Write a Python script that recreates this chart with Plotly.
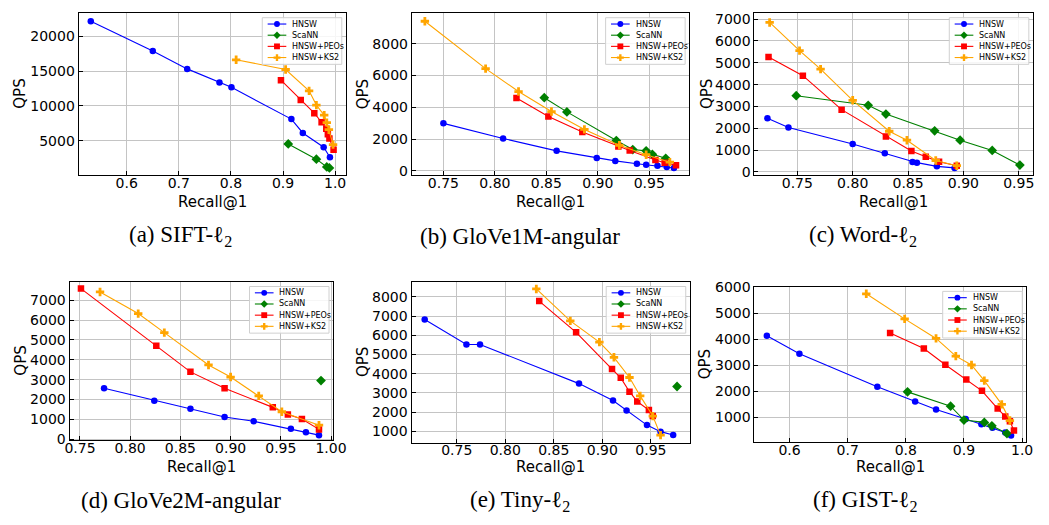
import plotly.graph_objects as go

# ---------------- data: Recall@1 vs QPS per dataset ----------------
# (a) SIFT-l2
sift_hnsw_x = [0.531, 0.650, 0.716, 0.778, 0.801, 0.916, 0.938, 0.978, 0.990]
sift_hnsw_y = [22190, 17900, 15340, 13390, 12690, 8120, 6120, 4070, 2630]
sift_scann_x = [0.910, 0.964, 0.984, 0.989]
sift_scann_y = [4540, 2350, 1230, 1090]
sift_peos_x = [0.896, 0.934, 0.960, 0.974, 0.983, 0.986, 0.989, 0.997]
sift_peos_y = [13710, 10870, 8960, 7660, 6730, 5930, 5330, 3700]
sift_ks2_x = [0.810, 0.905, 0.950, 0.964, 0.979, 0.984, 0.988, 0.996]
sift_ks2_y = [16650, 15250, 12180, 10130, 8680, 7610, 6590, 4440]

# (b) GloVe1M-angular
g1m_hnsw_x = [0.750, 0.808, 0.860, 0.899, 0.917, 0.938, 0.947, 0.958, 0.967, 0.974]
g1m_hnsw_y = [2990, 2040, 1260, 810, 630, 450, 390, 330, 240, 180]
g1m_scann_x = [0.848, 0.870, 0.918, 0.934, 0.947, 0.953, 0.966]
g1m_scann_y = [4600, 3710, 1910, 1340, 1260, 1040, 790]
g1m_peos_x = [0.821, 0.852, 0.885, 0.920, 0.931, 0.956, 0.965, 0.976]
g1m_peos_y = [4580, 3420, 2440, 1530, 1280, 690, 510, 350]
g1m_ks2_x = [0.732, 0.791, 0.823, 0.855, 0.887, 0.921, 0.947, 0.970]
g1m_ks2_y = [9410, 6430, 4990, 3730, 2610, 1610, 1020, 550]

# (c) Word-l2
word_hnsw_x = [0.723, 0.742, 0.800, 0.829, 0.854, 0.858, 0.876, 0.892]
word_hnsw_y = [2460, 2030, 1280, 850, 450, 420, 250, 180]
word_scann_x = [0.749, 0.814, 0.830, 0.874, 0.897, 0.926, 0.951]
word_scann_y = [3490, 3050, 2650, 1880, 1450, 980, 310]
word_peos_x = [0.724, 0.755, 0.790, 0.830, 0.853, 0.866, 0.878, 0.894]
word_peos_y = [5270, 4410, 2850, 1620, 950, 690, 460, 280]
word_ks2_x = [0.725, 0.752, 0.771, 0.800, 0.833, 0.849, 0.875, 0.894]
word_ks2_y = [6850, 5560, 4710, 3280, 1860, 1450, 520, 280]

# (d) GloVe2M-angular
g2m_hnsw_x = [0.774, 0.824, 0.860, 0.894, 0.923, 0.960, 0.975, 0.988]
g2m_hnsw_y = [2560, 1940, 1530, 1110, 900, 520, 340, 200]
g2m_scann_x = [0.990]
g2m_scann_y = [2950]
g2m_peos_x = [0.751, 0.826, 0.860, 0.894, 0.942, 0.957, 0.971, 0.988]
g2m_peos_y = [7590, 4710, 3390, 2560, 1600, 1240, 1010, 490]
g2m_ks2_x = [0.770, 0.808, 0.834, 0.878, 0.900, 0.928, 0.951, 0.988]
g2m_ks2_y = [7420, 6330, 5370, 3740, 3130, 2180, 1380, 700]

# (e) Tiny-l2
tiny_hnsw_x = [0.717, 0.760, 0.774, 0.876, 0.911, 0.925, 0.946, 0.960, 0.973]
tiny_hnsw_y = [6820, 5520, 5520, 3480, 2600, 2080, 1320, 980, 800]
tiny_scann_x = [0.977]
tiny_scann_y = [3330]
tiny_peos_x = [0.835, 0.873, 0.910, 0.919, 0.928, 0.936, 0.948, 0.952]
tiny_peos_y = [7780, 6150, 4240, 3780, 3060, 2550, 2100, 1790]
tiny_ks2_x = [0.832, 0.867, 0.897, 0.912, 0.928, 0.939, 0.952, 0.960]
tiny_ks2_y = [8410, 6750, 5640, 4850, 3800, 2840, 1790, 800]

# (f) GIST-l2
gist_hnsw_x = [0.561, 0.617, 0.751, 0.816, 0.852, 0.903, 0.930, 0.949, 0.971, 0.981]
gist_hnsw_y = [4130, 3440, 2180, 1610, 1300, 940, 740, 600, 420, 310]
gist_scann_x = [0.803, 0.877, 0.900, 0.935, 0.948, 0.974]
gist_scann_y = [1980, 1430, 900, 810, 680, 380]
gist_peos_x = [0.773, 0.831, 0.868, 0.904, 0.931, 0.958, 0.971, 0.979, 0.986]
gist_peos_y = [4240, 3640, 3020, 2450, 2020, 1340, 1040, 850, 500]
gist_ks2_x = [0.732, 0.798, 0.852, 0.886, 0.913, 0.935, 0.965, 0.979]
gist_ks2_y = [5740, 4780, 4030, 3350, 3010, 2410, 1500, 880]

method_names = ["HNSW", "ScaNN", "HNSW+PEOs", "HNSW+KS2"]

captions = [
    "(a) SIFT-ℓ<sub>2</sub>",
    "(b) GloVe1M-angular",
    "(c) Word-ℓ<sub>2</sub>",
    "(d) GloVe2M-angular",
    "(e) Tiny-ℓ<sub>2</sub>",
    "(f) GIST-ℓ<sub>2</sub>",
]

x_ticks = [
    [0.6, 0.7, 0.8, 0.9, 1.0],
    [0.75, 0.80, 0.85, 0.90, 0.95],
    [0.75, 0.80, 0.85, 0.90, 0.95],
    [0.75, 0.80, 0.85, 0.90, 0.95, 1.00],
    [0.75, 0.80, 0.85, 0.90, 0.95],
    [0.6, 0.7, 0.8, 0.9, 1.0],
]
y_ticks = [
    [5000, 10000, 15000, 20000],
    [0, 2000, 4000, 6000, 8000],
    [0, 1000, 2000, 3000, 4000, 5000, 6000, 7000],
    [0, 1000, 2000, 3000, 4000, 5000, 6000, 7000],
    [1000, 2000, 3000, 4000, 5000, 6000, 7000, 8000],
    [1000, 2000, 3000, 4000, 5000, 6000],
]

panels = [
    [(sift_hnsw_x, sift_hnsw_y), (sift_scann_x, sift_scann_y),
     (sift_peos_x, sift_peos_y), (sift_ks2_x, sift_ks2_y)],
    [(g1m_hnsw_x, g1m_hnsw_y), (g1m_scann_x, g1m_scann_y),
     (g1m_peos_x, g1m_peos_y), (g1m_ks2_x, g1m_ks2_y)],
    [(word_hnsw_x, word_hnsw_y), (word_scann_x, word_scann_y),
     (word_peos_x, word_peos_y), (word_ks2_x, word_ks2_y)],
    [(g2m_hnsw_x, g2m_hnsw_y), (g2m_scann_x, g2m_scann_y),
     (g2m_peos_x, g2m_peos_y), (g2m_ks2_x, g2m_ks2_y)],
    [(tiny_hnsw_x, tiny_hnsw_y), (tiny_scann_x, tiny_scann_y),
     (tiny_peos_x, tiny_peos_y), (tiny_ks2_x, tiny_ks2_y)],
    [(gist_hnsw_x, gist_hnsw_y), (gist_scann_x, gist_scann_y),
     (gist_peos_x, gist_peos_y), (gist_ks2_x, gist_ks2_y)],
]

# ---------------- styling and layout ----------------
W, H = 1049, 525
colors = ["#0000ff", "#008000", "#ff0000", "#ffa500"]
symbols = ["circle", "diamond", "square", "cross"]
msizes = [6.5, 7.5, 6.5, 7]

# plot frames in pixels: (left, right, top, bottom)
frames = [
    (75.0, 347.0, 5.0, 172.0),
    (414.3, 696.7, 5.0, 172.0),
    (763.3, 1046.7, 5.0, 172.0),
    (65.7, 334.0, 281.7, 445.0),
    (414.0, 697.3, 281.7, 447.3),
    (763.3, 1040.0, 286.7, 446.7),
]
x_ranges = [
    [0.5077, 1.0203], [0.7193, 0.9887], [0.7113, 0.9626],
    [0.7396, 1.0019], [0.7034, 0.9900], [0.5397, 1.0070],
]
y_ranges = [
    [60, 23400], [-263, 9936], [-150, 7290],
    [-60, 7940], [413, 8790], [60, 6020],
]
x_fmt = [".1f", ".2f", ".2f", ".2f", ".2f", ".1f"]
qps_x = [15, 365, 715, 16, 364.5, 713]
xlabel_y = [200, 200, 200, 472, 472, 472]
caption_pos = [(179, 235), (525, 235), (874, 235), (179, 507), (525, 507), (876, 507)]


def px(x):
    return x / W


def py(y):
    return 1 - y / H


fig = go.Figure()
shapes = []
annotations = []
tick_font = dict(family="DejaVu Sans", size=14, color="black")

for i, series in enumerate(panels):
    n = "" if i == 0 else str(i + 1)
    left, right, top, bottom = frames[i]
    for k, (xs, ys) in enumerate(series):
        fig.add_trace(go.Scatter(
            x=xs, y=ys, mode="lines+markers", name=method_names[k],
            xaxis="x" + n, yaxis="y" + n, showlegend=False,
            line=dict(color=colors[k], width=1.1),
            marker=dict(symbol=symbols[k], size=msizes[k], color=colors[k],
                        line=dict(width=0)),
        ))
    common = dict(
        showgrid=True, gridcolor="#c4c4c4", gridwidth=1,
        showline=True, linecolor="black", linewidth=1, mirror=True,
        ticks="inside", ticklen=4, tickcolor="black",
        tickfont=tick_font, zeroline=False,
    )
    fig.update_layout(**{
        "xaxis" + n: dict(
            domain=[px(left), px(right)], range=x_ranges[i],
            anchor="y" + n, tickvals=x_ticks[i], tickformat=x_fmt[i],
            ticklabelstandoff=-5, **common),
        "yaxis" + n: dict(
            domain=[py(bottom), py(top)], range=y_ranges[i],
            anchor="x" + n, tickvals=y_ticks[i], tickformat="d", **common),
    })

    # axis titles
    annotations.append(dict(
        x=px((left + right) / 2), y=py(xlabel_y[i]), xref="paper", yref="paper",
        text="Recall@1", showarrow=False, xanchor="center", yanchor="middle",
        font=dict(family="DejaVu Sans", size=15, color="black")))
    annotations.append(dict(
        x=px(qps_x[i]), y=py((top + bottom) / 2), xref="paper", yref="paper",
        text="QPS", showarrow=False, textangle=-90, xanchor="center", yanchor="middle",
        font=dict(family="DejaVu Sans", size=15, color="black")))

    # sub-figure caption
    cx, cy = caption_pos[i]
    annotations.append(dict(
        x=px(cx), y=py(cy), xref="paper", yref="paper", text=captions[i],
        showarrow=False, xanchor="center", yanchor="middle",
        font=dict(family="Liberation Serif", size=23, color="black")))

    # legend box in the upper-right corner
    bw, bh = 81, 48
    bx1 = right - 4
    bx0 = bx1 - bw
    by0 = top + 5
    by1 = by0 + bh
    shapes.append(dict(type="rect", xref="paper", yref="paper",
                       x0=px(bx0), x1=px(bx1), y0=py(by1), y1=py(by0),
                       line=dict(color="#d0d0d0", width=1),
                       fillcolor="rgba(255,255,255,0.85)", layer="above"))
    for k in range(4):
        ry = by0 + 6.5 + k * 11.5
        hx0, hx1 = bx0 + 5.5, bx0 + 24.5
        mx = (hx0 + hx1) / 2
        shapes.append(dict(type="line", xref="paper", yref="paper",
                           x0=px(hx0), x1=px(hx1), y0=py(ry), y1=py(ry),
                           line=dict(color=colors[k], width=1.1), layer="above"))
        r = 3.0
        style = dict(xref="paper", yref="paper", fillcolor=colors[k],
                     line=dict(width=0), layer="above")
        if symbols[k] == "circle":
            shapes.append(dict(type="circle", x0=px(mx - r), x1=px(mx + r),
                               y0=py(ry + r), y1=py(ry - r), **style))
        elif symbols[k] == "square":
            shapes.append(dict(type="rect", x0=px(mx - r), x1=px(mx + r),
                               y0=py(ry + r), y1=py(ry - r), **style))
        elif symbols[k] == "diamond":
            d = 3.8
            path = (f"M {px(mx)},{py(ry - d)} L {px(mx + d)},{py(ry)} "
                    f"L {px(mx)},{py(ry + d)} L {px(mx - d)},{py(ry)} Z")
            shapes.append(dict(type="path", path=path, **style))
        else:
            a, b = 3.5, 1.2
            pts = [(-b, -a), (b, -a), (b, -b), (a, -b), (a, b), (b, b),
                   (b, a), (-b, a), (-b, b), (-a, b), (-a, -b), (-b, -b)]
            path = "M " + " L ".join(f"{px(mx + u)},{py(ry + v)}" for u, v in pts) + " Z"
            shapes.append(dict(type="path", path=path, **style))
        annotations.append(dict(
            x=px(bx0 + 28.5), y=py(ry), xref="paper", yref="paper",
            text=method_names[k], showarrow=False, xanchor="left", yanchor="middle",
            font=dict(family="DejaVu Sans", size=8, color="black")))

fig.update_layout(
    width=W, height=H,
    margin=dict(l=0, r=0, t=0, b=0),
    paper_bgcolor="white", plot_bgcolor="white",
    shapes=shapes, annotations=annotations,
    showlegend=False,
)

fig.write_html("out.html")
